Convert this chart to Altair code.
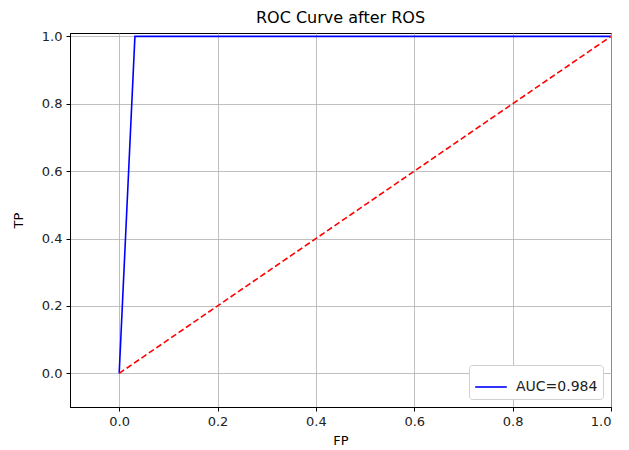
import altair as alt
import pandas as pd

fpr = [0.0, 0.032, 1.0]
tpr = [0.0, 1.0, 1.0]
diag_x = [0.0, 1.0]
diag_y = [0.0, 1.0]
label = "AUC=0.984"
ticks = [0.0, 0.2, 0.4, 0.6, 0.8, 1.0]

roc = pd.DataFrame({"fp": fpr, "tp": tpr, "s": [label] * len(fpr), "o": list(range(len(fpr)))})
diag = pd.DataFrame({"fp": diag_x, "tp": diag_y})

xs = alt.Scale(domain=[-0.1, 1.0], nice=False, zero=False)
ys = alt.Scale(domain=[-0.1, 1.01], nice=False, zero=False)
xa = alt.Axis(values=ticks, format=".1f", title="FP")
ya = alt.Axis(values=ticks, format=".1f", title="TP")

blue = alt.Chart(roc).mark_line(strokeWidth=1.6, clip=True).encode(
    x=alt.X("fp:Q", scale=xs, axis=xa),
    y=alt.Y("tp:Q", scale=ys, axis=ya),
    order="o:Q",
    color=alt.Color("s:N", scale=alt.Scale(domain=[label], range=["blue"]),
                    legend=alt.Legend(title=None, orient="bottom-right", symbolType="stroke",
                                      symbolStrokeWidth=1.6, symbolSize=1000,
                                      labelFontSize=14, labelFont="DejaVu Sans",
                                      labelColor="#222", strokeColor="#d0d0d0",
                                      fillColor="white", padding=5, cornerRadius=3,
                                      offset=8, labelOffset=8)),
)

red = alt.Chart(diag).mark_line(color="red", strokeDash=[6, 3], strokeWidth=1.6, clip=True).encode(
    x=alt.X("fp:Q", scale=xs, axis=xa),
    y=alt.Y("tp:Q", scale=ys, axis=ya),
)

chart = alt.layer(blue, red).properties(
    width=541,
    height=374,
    title=alt.TitleParams("ROC Curve after ROS", fontSize=16, font="DejaVu Sans",
                          fontWeight="normal", color="#000", offset=4),
    autosize=alt.AutoSizeParams(type="none"),
    padding={"left": 62, "top": 25, "right": 10, "bottom": 45},
).configure_axis(
    labelFont="DejaVu Sans", labelFontSize=13, labelColor="#222",
    titleFont="DejaVu Sans", titleFontSize=13, titleFontWeight="normal", titleColor="#000",
    domainColor="#000", domainWidth=1, tickColor="#000", tickSize=4,
    gridColor="#b0b0b0", gridWidth=0.8, labelPadding=4,
).configure_axisX(titlePadding=6).configure_axisY(titlePadding=16).configure_view(
    stroke="#000", strokeWidth=1
)

chart.save("out.html", embed_options={"renderer": "svg", "actions": False})
